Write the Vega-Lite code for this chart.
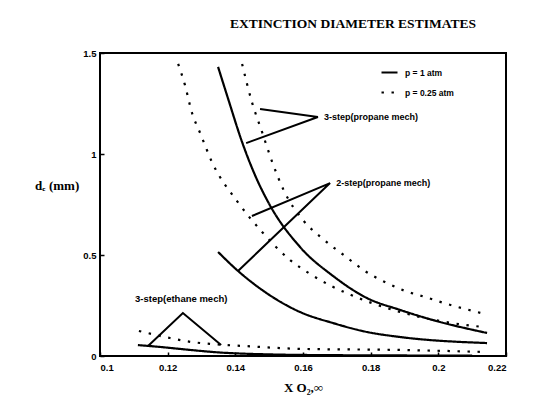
{
  "$schema": "https://vega.github.io/schema/vega-lite/v6.json",
  "width": 406,
  "height": 303,
  "autosize": "none",
  "padding": {"left": 100, "top": 53, "right": 30, "bottom": 51},
  "background": "white",
  "title": {
    "text": "EXTINCTION DIAMETER ESTIMATES",
    "font": "Liberation Serif",
    "fontSize": 13.5,
    "fontWeight": "bold",
    "color": "black",
    "anchor": "middle",
    "frame": "group",
    "dx": 50,
    "offset": 18
  },
  "config": {
    "view": {"stroke": "black", "strokeWidth": 2},
    "axis": {
      "grid": false,
      "domain": false,
      "labelFont": "Liberation Sans",
      "labelFontWeight": "bold",
      "labelFontSize": 9.5,
      "labelColor": "black",
      "tickColor": "black",
      "tickSize": -4,
      "tickWidth": 1.5,
      "titleFont": "Liberation Serif",
      "titleFontWeight": "bold",
      "titleColor": "black"
    }
  },
  "datasets": {
    "curves": [
      {"curve": "3-step propane 1 atm", "pressure": "p = 1 atm", "x": 0.1349, "y": 1.431},
      {"curve": "3-step propane 1 atm", "pressure": "p = 1 atm", "x": 0.1378, "y": 1.277},
      {"curve": "3-step propane 1 atm", "pressure": "p = 1 atm", "x": 0.1420, "y": 1.059},
      {"curve": "3-step propane 1 atm", "pressure": "p = 1 atm", "x": 0.1458, "y": 0.896},
      {"curve": "3-step propane 1 atm", "pressure": "p = 1 atm", "x": 0.1497, "y": 0.762},
      {"curve": "3-step propane 1 atm", "pressure": "p = 1 atm", "x": 0.1591, "y": 0.540},
      {"curve": "3-step propane 1 atm", "pressure": "p = 1 atm", "x": 0.1689, "y": 0.396},
      {"curve": "3-step propane 1 atm", "pressure": "p = 1 atm", "x": 0.1789, "y": 0.287},
      {"curve": "3-step propane 1 atm", "pressure": "p = 1 atm", "x": 0.1887, "y": 0.228},
      {"curve": "3-step propane 1 atm", "pressure": "p = 1 atm", "x": 0.1984, "y": 0.178},
      {"curve": "3-step propane 1 atm", "pressure": "p = 1 atm", "x": 0.2144, "y": 0.114},
      {"curve": "2-step propane 1 atm", "pressure": "p = 1 atm", "x": 0.1349, "y": 0.515},
      {"curve": "2-step propane 1 atm", "pressure": "p = 1 atm", "x": 0.1408, "y": 0.421},
      {"curve": "2-step propane 1 atm", "pressure": "p = 1 atm", "x": 0.1479, "y": 0.327},
      {"curve": "2-step propane 1 atm", "pressure": "p = 1 atm", "x": 0.1591, "y": 0.218},
      {"curve": "2-step propane 1 atm", "pressure": "p = 1 atm", "x": 0.1689, "y": 0.163},
      {"curve": "2-step propane 1 atm", "pressure": "p = 1 atm", "x": 0.1789, "y": 0.119},
      {"curve": "2-step propane 1 atm", "pressure": "p = 1 atm", "x": 0.1887, "y": 0.094},
      {"curve": "2-step propane 1 atm", "pressure": "p = 1 atm", "x": 0.2144, "y": 0.064},
      {"curve": "3-step ethane 1 atm", "pressure": "p = 1 atm", "x": 0.1112, "y": 0.054},
      {"curve": "3-step ethane 1 atm", "pressure": "p = 1 atm", "x": 0.1142, "y": 0.050},
      {"curve": "3-step ethane 1 atm", "pressure": "p = 1 atm", "x": 0.1378, "y": 0.015},
      {"curve": "3-step ethane 1 atm", "pressure": "p = 1 atm", "x": 0.1500, "y": 0.008},
      {"curve": "3-step ethane 1 atm", "pressure": "p = 1 atm", "x": 0.1700, "y": 0.004},
      {"curve": "3-step ethane 1 atm", "pressure": "p = 1 atm", "x": 0.2100, "y": 0.002},
      {"curve": "3-step propane 0.25 atm", "pressure": "p = 0.25 atm", "x": 0.1420, "y": 1.446},
      {"curve": "3-step propane 0.25 atm", "pressure": "p = 0.25 atm", "x": 0.1449, "y": 1.257},
      {"curve": "3-step propane 0.25 atm", "pressure": "p = 0.25 atm", "x": 0.1479, "y": 1.109},
      {"curve": "3-step propane 0.25 atm", "pressure": "p = 0.25 atm", "x": 0.1508, "y": 0.965},
      {"curve": "3-step propane 0.25 atm", "pressure": "p = 0.25 atm", "x": 0.1544, "y": 0.817},
      {"curve": "3-step propane 0.25 atm", "pressure": "p = 0.25 atm", "x": 0.1600, "y": 0.673},
      {"curve": "3-step propane 0.25 atm", "pressure": "p = 0.25 atm", "x": 0.1659, "y": 0.579},
      {"curve": "3-step propane 0.25 atm", "pressure": "p = 0.25 atm", "x": 0.1724, "y": 0.495},
      {"curve": "3-step propane 0.25 atm", "pressure": "p = 0.25 atm", "x": 0.1783, "y": 0.421},
      {"curve": "3-step propane 0.25 atm", "pressure": "p = 0.25 atm", "x": 0.1842, "y": 0.366},
      {"curve": "3-step propane 0.25 atm", "pressure": "p = 0.25 atm", "x": 0.1902, "y": 0.322},
      {"curve": "3-step propane 0.25 atm", "pressure": "p = 0.25 atm", "x": 0.1961, "y": 0.292},
      {"curve": "3-step propane 0.25 atm", "pressure": "p = 0.25 atm", "x": 0.2017, "y": 0.262},
      {"curve": "3-step propane 0.25 atm", "pressure": "p = 0.25 atm", "x": 0.2079, "y": 0.233},
      {"curve": "3-step propane 0.25 atm", "pressure": "p = 0.25 atm", "x": 0.2138, "y": 0.208},
      {"curve": "2-step propane 0.25 atm", "pressure": "p = 0.25 atm", "x": 0.1231, "y": 1.446},
      {"curve": "2-step propane 0.25 atm", "pressure": "p = 0.25 atm", "x": 0.1251, "y": 1.342},
      {"curve": "2-step propane 0.25 atm", "pressure": "p = 0.25 atm", "x": 0.1272, "y": 1.203},
      {"curve": "2-step propane 0.25 atm", "pressure": "p = 0.25 atm", "x": 0.1296, "y": 1.104},
      {"curve": "2-step propane 0.25 atm", "pressure": "p = 0.25 atm", "x": 0.1331, "y": 0.960},
      {"curve": "2-step propane 0.25 atm", "pressure": "p = 0.25 atm", "x": 0.1405, "y": 0.767},
      {"curve": "2-step propane 0.25 atm", "pressure": "p = 0.25 atm", "x": 0.1479, "y": 0.614},
      {"curve": "2-step propane 0.25 atm", "pressure": "p = 0.25 atm", "x": 0.1562, "y": 0.475},
      {"curve": "2-step propane 0.25 atm", "pressure": "p = 0.25 atm", "x": 0.1621, "y": 0.406},
      {"curve": "2-step propane 0.25 atm", "pressure": "p = 0.25 atm", "x": 0.1683, "y": 0.347},
      {"curve": "2-step propane 0.25 atm", "pressure": "p = 0.25 atm", "x": 0.1742, "y": 0.302},
      {"curve": "2-step propane 0.25 atm", "pressure": "p = 0.25 atm", "x": 0.1804, "y": 0.262},
      {"curve": "2-step propane 0.25 atm", "pressure": "p = 0.25 atm", "x": 0.1887, "y": 0.218},
      {"curve": "2-step propane 0.25 atm", "pressure": "p = 0.25 atm", "x": 0.2005, "y": 0.173},
      {"curve": "2-step propane 0.25 atm", "pressure": "p = 0.25 atm", "x": 0.2129, "y": 0.144},
      {"curve": "3-step ethane 0.25 atm", "pressure": "p = 0.25 atm", "x": 0.1115, "y": 0.124},
      {"curve": "3-step ethane 0.25 atm", "pressure": "p = 0.25 atm", "x": 0.1207, "y": 0.089},
      {"curve": "3-step ethane 0.25 atm", "pressure": "p = 0.25 atm", "x": 0.1272, "y": 0.069},
      {"curve": "3-step ethane 0.25 atm", "pressure": "p = 0.25 atm", "x": 0.1331, "y": 0.059},
      {"curve": "3-step ethane 0.25 atm", "pressure": "p = 0.25 atm", "x": 0.1420, "y": 0.050},
      {"curve": "3-step ethane 0.25 atm", "pressure": "p = 0.25 atm", "x": 0.1600, "y": 0.035},
      {"curve": "3-step ethane 0.25 atm", "pressure": "p = 0.25 atm", "x": 0.1887, "y": 0.030},
      {"curve": "3-step ethane 0.25 atm", "pressure": "p = 0.25 atm", "x": 0.2138, "y": 0.020}
    ],
    "leaders": [
      {"leader": "3-step propane", "seq": 1, "x": 0.1473, "y": 1.223},
      {"leader": "3-step propane", "seq": 2, "x": 0.1644, "y": 1.183},
      {"leader": "3-step propane", "seq": 3, "x": 0.1432, "y": 1.054},
      {"leader": "2-step propane", "seq": 1, "x": 0.1449, "y": 0.693},
      {"leader": "2-step propane", "seq": 2, "x": 0.1680, "y": 0.856},
      {"leader": "2-step propane", "seq": 3, "x": 0.1408, "y": 0.421},
      {"leader": "3-step ethane", "seq": 1, "x": 0.1142, "y": 0.0495},
      {"leader": "3-step ethane", "seq": 2, "x": 0.1245, "y": 0.213},
      {"leader": "3-step ethane", "seq": 3, "x": 0.1358, "y": 0.0545}
    ],
    "notes": [
      {"label": "3-step(propane mech)", "x": 0.1656, "y": 1.183, "align": "left"},
      {"label": "2-step(propane mech)", "x": 0.1692, "y": 0.856, "align": "left"},
      {"label": "3-step(ethane mech)", "x": 0.1240, "y": 0.282, "align": "center"}
    ]
  },
  "layer": [
    {
      "data": {"name": "curves"},
      "mark": {"type": "line", "color": "black", "strokeWidth": 2.2, "interpolate": "monotone"},
      "encoding": {
        "x": {
          "field": "x", "type": "quantitative",
          "scale": {"domain": [0.1, 0.22], "nice": false, "zero": false},
          "axis": {"values": [0.1, 0.12, 0.14, 0.16, 0.18, 0.2, 0.22], "format": "~g", "labelPadding": 10, "title": "X O₂,∞", "titleFontSize": 13, "titlePadding": 10}
        },
        "y": {
          "field": "y", "type": "quantitative",
          "scale": {"domain": [0, 1.5], "nice": false},
          "axis": {
            "values": [0, 0.5, 1, 1.5], "format": "~g", "labelPadding": 8,
            "title": "dₑ (mm)", "titleAngle": 0, "titleAlign": "right", "titleBaseline": "middle", "titleY": 132, "titleFontSize": 13,
            "encode": {"title": {"update": {"dx": {"value": 22}}}}
          }
        },
        "detail": {"field": "curve"},
        "strokeDash": {
          "field": "pressure", "type": "nominal",
          "scale": {"domain": ["p = 1 atm", "p = 0.25 atm"], "range": [[1, 0], [2.4, 7.6]]},
          "legend": {
            "title": null, "orient": "none", "legendX": 280, "legendY": 10,
            "symbolType": "stroke", "symbolSize": 256, "symbolStrokeColor": "black", "symbolStrokeWidth": 2.2,
            "labelFont": "Liberation Sans", "labelFontWeight": "bold", "labelFontSize": 8.5, "labelColor": "black",
            "rowPadding": 6, "labelOffset": 6
          }
        }
      }
    },
    {
      "data": {"name": "leaders"},
      "mark": {"type": "line", "color": "black", "strokeWidth": 2},
      "encoding": {
        "x": {"field": "x", "type": "quantitative"},
        "y": {"field": "y", "type": "quantitative"},
        "detail": {"field": "leader"},
        "order": {"field": "seq", "type": "quantitative"}
      }
    },
    {
      "data": {"name": "notes"},
      "transform": [{"filter": "datum.align == 'left'"}],
      "mark": {"type": "text", "align": "left", "baseline": "middle", "font": "Liberation Sans", "fontWeight": "bold", "fontSize": 9, "color": "black", "dx": 2},
      "encoding": {
        "x": {"field": "x", "type": "quantitative"},
        "y": {"field": "y", "type": "quantitative"},
        "text": {"field": "label"}
      }
    },
    {
      "data": {"name": "notes"},
      "transform": [{"filter": "datum.align == 'center'"}],
      "mark": {"type": "text", "align": "center", "baseline": "middle", "font": "Liberation Sans", "fontWeight": "bold", "fontSize": 9.5, "color": "black"},
      "encoding": {
        "x": {"field": "x", "type": "quantitative"},
        "y": {"field": "y", "type": "quantitative"},
        "text": {"field": "label"}
      }
    }
  ]
}
